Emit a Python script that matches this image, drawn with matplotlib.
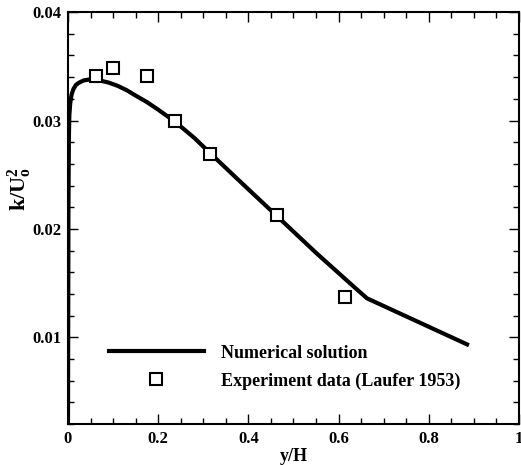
import numpy as np
import matplotlib
matplotlib.use('Agg')
import matplotlib.pyplot as plt
from matplotlib.ticker import MultipleLocator

plt.rcParams['font.family'] = 'Liberation Serif'
plt.rcParams['font.weight'] = 'bold'
plt.rcParams['mathtext.fontset'] = 'custom'
plt.rcParams['mathtext.rm'] = 'Liberation Serif:bold'
plt.rcParams['mathtext.it'] = 'Liberation Serif:bold'
plt.rcParams['mathtext.bf'] = 'Liberation Serif:bold'

# numerical solution
x_num = [0.0, 0.001, 0.002, 0.003, 0.005, 0.008, 0.012, 0.018, 0.025, 0.035,
         0.05, 0.07, 0.09, 0.11, 0.13, 0.15, 0.175, 0.2, 0.237, 0.28, 0.315,
         0.381, 0.463, 0.55, 0.625, 0.663, 0.885]
k_num = [0.002, 0.022, 0.0285, 0.0305, 0.0316, 0.0324, 0.0329, 0.0333, 0.0335, 0.0337,
         0.0338, 0.0337, 0.0335, 0.0332, 0.0328, 0.0323, 0.0317, 0.0310, 0.0299, 0.0284, 0.0270,
         0.0244, 0.0212, 0.0178, 0.0150, 0.0136, 0.00935]

# experiment data (Laufer 1953)
x_exp = [0.062, 0.1, 0.175, 0.237, 0.315, 0.463, 0.614]
k_exp = [0.0341, 0.0348, 0.0341, 0.0300, 0.0269, 0.0213, 0.0137]

fig = plt.figure(figsize=(5.21, 4.65), dpi=100)
ax = fig.add_axes([0.1305, 0.088, 0.8655, 0.886])

ax.plot(x_num, k_num, color='black', lw=3, label='Numerical solution',
        solid_joinstyle='round')
ax.plot(x_exp, k_exp, 's', ms=8, mfc='white', mec='black', mew=1.5,
        label='Experiment data (Laufer 1953)')

ax.set_xlim(0, 1)
ax.set_ylim(0.002, 0.04)
ax.xaxis.set_minor_locator(MultipleLocator(0.05))
ax.yaxis.set_minor_locator(MultipleLocator(0.002))
ax.set_xticks([0, 0.2, 0.4, 0.6, 0.8, 1.0])
ax.set_xticklabels(['0', '0.2', '0.4', '0.6', '0.8', '1'])
ax.set_yticks([0.01, 0.02, 0.03, 0.04])
ax.set_yticklabels(['0.01', '0.02', '0.03', '0.04'])

ax.tick_params(which='both', direction='in', top=True, right=True, labelsize=12, width=1)
ax.tick_params(which='major', length=7, pad=5)
ax.tick_params(which='minor', length=4)
for s in ax.spines.values():
    s.set_linewidth(1.5)

ax.set_xlabel('y/H', fontsize=13, fontweight='bold', labelpad=1)
ax.set_ylabel(r'$\mathrm{k/U_o^2}$', fontsize=16)
ax.yaxis.set_label_coords(-0.075, 0.57)

ax.legend(frameon=False, loc='upper left', bbox_to_anchor=(0.07, 0.215),
          borderpad=0, handlelength=5.3, handletextpad=0.9, labelspacing=0.6,
          prop={'size': 13, 'weight': 'bold'})

fig.savefig('out.png', dpi=100)
